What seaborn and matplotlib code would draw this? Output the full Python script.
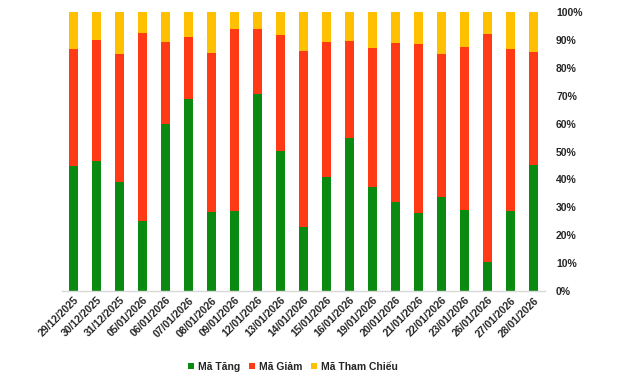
import matplotlib
matplotlib.use("Agg")
import matplotlib.pyplot as plt
import seaborn as sns
import pandas as pd
from matplotlib.patches import Patch
from matplotlib.ticker import PercentFormatter

dates = ["29/12/2025", "30/12/2025", "31/12/2025", "05/01/2026", "06/01/2026", "07/01/2026",
         "08/01/2026", "09/01/2026", "12/01/2026", "13/01/2026", "14/01/2026", "15/01/2026",
         "16/01/2026", "19/01/2026", "20/01/2026", "21/01/2026", "22/01/2026", "23/01/2026",
         "26/01/2026", "27/01/2026", "28/01/2026"]
tang = [44.9, 46.6, 39.1, 25.1, 59.9, 68.8, 28.3, 28.7, 70.6, 50.2, 22.9, 40.9, 54.9, 37.3,
        32.0, 28.0, 33.7, 29.0, 10.4, 28.7, 45.2]
giam = [41.8, 43.4, 45.8, 67.4, 29.3, 22.2, 57.0, 65.2, 23.3, 41.6, 63.1, 48.3, 34.7, 49.8,
        56.9, 60.5, 51.2, 58.5, 81.7, 58.0, 40.5]
tham_chieu = [13.3, 10.0, 15.1, 7.5, 10.8, 9.0, 14.7, 6.1, 6.1, 8.2, 14.0, 10.8, 10.4, 12.9,
              11.1, 11.5, 15.1, 12.5, 7.9, 13.3, 14.3]
series_names = ["Mã Tăng", "Mã Giảm", "Mã Tham Chiếu"]
colors = ["#0B8A12", "#FF3A14", "#FFC000"]

df = pd.DataFrame({"date": dates, "tang": tang, "giam": giam, "tc": tham_chieu})
df["top_giam"] = df["tang"] + df["giam"]
df["top_tc"] = df["top_giam"] + df["tc"]

sns.set_style("white")
plt.rcParams["font.family"] = ["Liberation Sans", "DejaVu Sans"]

fig = plt.figure(figsize=(6.4, 3.78), dpi=100)
ax = fig.add_axes([62 / 640, 1 - 291 / 378, (545 - 62) / 640, (291 - 12) / 378])

width = 9 / 23
sns.barplot(data=df, x="date", y="top_tc", color=colors[2], width=width, ax=ax, saturation=1, linewidth=0)
sns.barplot(data=df, x="date", y="top_giam", color=colors[1], width=width, ax=ax, saturation=1, linewidth=0)
sns.barplot(data=df, x="date", y="tang", color=colors[0], width=width, ax=ax, saturation=1, linewidth=0)

ax.set_xlim(-0.5, len(dates) - 0.5)
ax.set_ylim(0, 100)
ax.set_yticks(range(0, 101, 10))
ax.yaxis.set_major_formatter(PercentFormatter(decimals=0))
ax.yaxis.tick_right()
ax.set_xlabel("")
ax.set_ylabel("")
for s in ["top", "left", "right"]:
    ax.spines[s].set_visible(False)
ax.spines["bottom"].set_color("#D9D9D9")
ax.spines["bottom"].set_linewidth(1)
ax.tick_params(axis="y", length=0, pad=8, labelsize=7.5)
ax.tick_params(axis="x", length=0, pad=3, labelsize=7.5)
for lab in ax.get_yticklabels():
    lab.set_fontweight("bold")
ax.set_xticks(range(len(dates)))
ax.set_xticklabels(dates, rotation=45, ha="right", rotation_mode="anchor", fontweight="bold")
ax.grid(False)

handles = [Patch(facecolor=c, edgecolor="none") for c in colors]
fig.legend(handles, series_names, loc="center", bbox_to_anchor=(293 / 640, 1 - 367 / 378),
           ncol=3, frameon=False, prop={"size": 7.5, "weight": "bold"},
           handlelength=0.5, handleheight=0.5, handletextpad=0.4, columnspacing=0.9)

fig.savefig("out.png", dpi=100)
